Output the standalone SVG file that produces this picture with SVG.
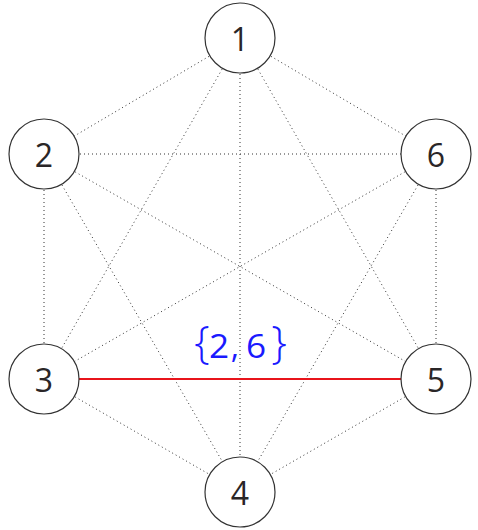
<svg xmlns="http://www.w3.org/2000/svg" width="478" height="530" viewBox="0 0 478 530">
<style>
.e{stroke:#333;stroke-width:1;stroke-dasharray:1 3;fill:none}
.n circle{fill:#fff;stroke:#333;stroke-width:1.2}
.n text{font-family:"Open Sans",sans-serif;font-size:32px;fill:#2a2627;text-anchor:middle;dominant-baseline:central}
.lb{font-family:"Open Sans",sans-serif;fill:#1a1aff;text-anchor:middle}
</style>
<rect width="478" height="530" fill="#fff"/>
<g id="connectors">
<line class="e" x1="240" y1="38" x2="44" y2="154"/>
<line class="e" x1="240" y1="38" x2="436" y2="154"/>
<line class="e" x1="240" y1="38" x2="44" y2="379"/>
<line class="e" x1="240" y1="38" x2="436" y2="379"/>
<line class="e" x1="240" y1="38" x2="240" y2="492"/>
<line class="e" x1="44" y1="154" x2="436" y2="154"/>
<line class="e" x1="44" y1="154" x2="44" y2="379"/>
<line class="e" x1="44" y1="154" x2="436" y2="379"/>
<line class="e" x1="44" y1="154" x2="240" y2="492"/>
<line class="e" x1="436" y1="154" x2="44" y2="379"/>
<line class="e" x1="436" y1="154" x2="436" y2="379"/>
<line class="e" x1="436" y1="154" x2="240" y2="492"/>
<line class="e" x1="44" y1="379" x2="240" y2="492"/>
<line class="e" x1="436" y1="379" x2="240" y2="492"/>
<line x1="44" y1="379" x2="436" y2="379" stroke="#e8141b" stroke-width="2"/>
<g id="label">
<text class="lb" x="202" y="358" font-size="44" font-weight="300">{</text>
<text class="lb" x="219" y="358" font-size="32" transform="translate(219 0) scale(1.1 1) translate(-219 0)">2</text>
<text class="lb" x="235" y="358" font-size="32">,</text>
<text class="lb" x="256" y="358" font-size="32" transform="translate(256 0) scale(1.1 1) translate(-256 0)">6</text>
<text class="lb" x="279" y="358" font-size="44" font-weight="300">}</text>
</g>
</g>
<g id="n1" class="n"><circle cx="240" cy="38" r="35"/><text x="240" y="38">1</text></g>
<g id="n2" class="n"><circle cx="44" cy="154" r="35"/><text x="44" y="154">2</text></g>
<g id="n6" class="n"><circle cx="436" cy="154" r="35"/><text x="436" y="154">6</text></g>
<g id="n3" class="n"><circle cx="44" cy="379" r="35"/><text x="44" y="379">3</text></g>
<g id="n5" class="n"><circle cx="436" cy="379" r="35"/><text x="436" y="379">5</text></g>
<g id="n4" class="n"><circle cx="240" cy="492" r="35"/><text x="240" y="492">4</text></g>
</svg>
